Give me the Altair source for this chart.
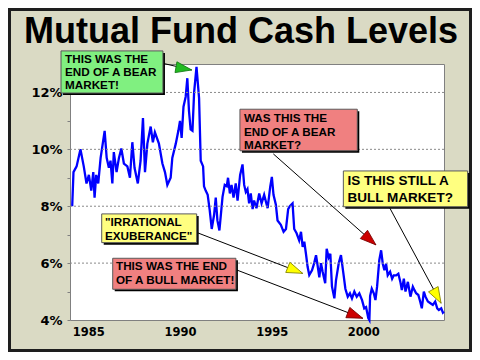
import altair as alt
import pandas as pd

# ---- data ----
years = [1984.12,1984.19,1984.36,1984.57,1984.75,1984.90,1985.03,1985.16,1985.27,1985.34,1985.43,1985.54,
         1985.67,1985.89,1986.00,1986.12,1986.21,1986.31,1986.39,1986.54,1986.67,1986.80,1986.94,1987.13,
         1987.27,1987.40,1987.52,1987.70,1987.85,1987.98,1988.09,1988.22,1988.40,1988.52,1988.63,1988.85,
         1989.04,1989.18,1989.31,1989.49,1989.58,1989.77,1989.91,1990.00,1990.09,1990.19,1990.31,1990.40,
         1990.49,1990.58,1990.68,1990.77,1990.90,1991.04,1991.13,1991.26,1991.31,1991.40,1991.51,1991.62,
         1991.73,1991.86,1991.95,1992.04,1992.15,1992.32,1992.44,1992.55,1992.62,1992.72,1992.81,1992.92,
         1993.04,1993.14,1993.28,1993.41,1993.50,1993.59,1993.68,1993.77,1993.86,1993.96,1994.04,1994.17,
         1994.32,1994.45,1994.59,1994.78,1994.92,1995.01,1995.10,1995.23,1995.32,1995.50,1995.65,1995.78,
         1995.90,1995.99,1996.14,1996.23,1996.36,1996.50,1996.60,1996.69,1996.78,1996.87,1996.96,1997.05,
         1997.20,1997.32,1997.42,1997.51,1997.60,1997.69,1997.78,1997.92,1998.00,1998.11,1998.20,1998.29,
         1998.42,1998.51,1998.66,1998.78,1998.91,1999.02,1999.15,1999.27,1999.38,1999.51,1999.64,1999.78,
         1999.93,2000.05,2000.15,2000.27,2000.33,2000.37,2000.46,2000.57,2000.66,2000.75,2000.87,2000.97,
         2001.06,2001.15,2001.24,2001.33,2001.46,2001.57,2001.66,2001.79,2001.91,2002.02,2002.10,2002.21,
         2002.30,2002.43,2002.57,2002.70,2002.79,2002.88,2003.00,2003.10,2003.19,2003.30,2003.39,2003.52,
         2003.66,2003.79,2003.92,2004.03,2004.12,2004.25,2004.34,2004.40]
cash = [8.0,9.2,9.4,10.0,9.4,8.8,9.1,8.55,9.2,8.3,9.1,8.8,
        9.7,10.65,9.7,9.35,9.6,8.8,9.9,9.2,9.7,10.03,9.5,9.4,
        9.0,10.25,9.35,8.8,9.6,11.1,9.2,10.2,10.8,10.25,10.6,10.2,
        9.5,9.2,8.75,9.0,9.7,10.2,10.65,11.0,10.4,11.5,11.85,12.5,
        11.35,10.7,10.65,12.0,12.9,11.8,9.6,9.4,8.7,8.55,8.4,7.86,
        7.2,7.7,8.3,7.5,7.15,8.33,8.75,8.7,9.0,8.45,8.75,8.3,
        8.8,8.2,9.1,9.47,8.75,8.5,8.6,8.1,8.45,7.9,8.2,7.93,
        8.45,8.1,8.4,7.93,8.68,9.03,8.4,8.05,7.5,7.35,7.1,7.2,
        7.9,8.0,8.1,7.2,7.05,6.8,7.1,6.57,6.75,6.33,5.87,5.58,
        5.75,6.0,6.28,5.9,5.5,6.0,5.7,5.29,6.5,6.2,6.33,5.17,
        4.76,5.4,6.0,6.28,5.65,5.1,4.82,4.94,4.76,5.0,4.82,4.94,
        4.7,4.41,4.45,4.07,4.0,4.85,5.1,4.94,4.7,5.17,6.1,6.45,
        5.98,5.75,5.98,5.57,5.7,5.45,5.57,5.57,5.63,5.34,5.05,5.45,
        5.0,5.34,4.82,5.17,5.05,4.94,4.88,4.65,4.41,5.0,4.82,4.65,
        4.59,4.53,4.65,4.41,4.35,4.41,4.26,4.3]

title_text = "Mutual Fund Cash Levels"
x_ticks = [1985, 1990, 1995, 2000]
y_ticks = [4, 5, 6, 7, 8, 9, 10, 11, 12]
grid_vals = [6, 8, 10, 12]

# annotation boxes (data units)
box_x1 = [1983.51, 1993.27, 1998.91, 1985.73, 1986.33]
box_x2 = [1989.07, 1999.67, 2005.69, 1990.91, 1993.05]
box_y1 = [13.46, 11.41, 9.24, 7.73, 6.17]
box_y2 = [11.98, 9.95, 7.98, 6.72, 5.08]
box_fill = ["#80f080", "#f08080", "#ffff80", "#ffff80", "#f08080"]

# text lines of the boxes
line_text = ["THIS WAS THE", "END OF A BEAR", "MARKET!",
             "WAS THIS THE", "END OF A BEAR", "MARKET?",
             "IS THIS STILL A", "BULL MARKET?",
             "\"IRRATIONAL", "EXUBERANCE\"",
             "THIS WAS THE END", "OF A BULL MARKET!"]
line_x = [1983.73] * 3 + [1993.49] * 3 + [1999.13] * 2 + [1985.91] * 2 + [1986.51] * 2
line_y = [13.05, 12.58, 12.11, 10.97, 10.48, 10.00, 8.75, 8.16, 7.30, 6.81, 5.76, 5.26]
line_size = [11.7] * 6 + [13.5] * 2 + [11.7] * 4

# arrows
arr_x1 = [1989.09, 1995.09, 2001.45, 1990.94, 1993.09]
arr_y1 = [13.02, 9.84, 7.93, 7.07, 5.76]
arr_x2 = [1990.64, 2000.69, 2004.24, 1996.69, 1999.97]
arr_y2 = [12.79, 6.64, 4.59, 5.64, 4.06]
arr_angle = [100, 131, 151, 112, 111]
arr_fill = ["#22bb22", "#cc0000", "#ffff00", "#ffff00", "#cc0000"]
arr_stroke = ["#117711", "#770000", "#888800", "#888800", "#770000"]

# ---- tables ----
df = pd.DataFrame({"year": years, "cash": cash})
boxes = pd.DataFrame({"x": box_x1, "x2": box_x2, "y": box_y1, "y2": box_y2, "fill": box_fill})
lines = pd.DataFrame({"x": line_x, "y": line_y, "t": line_text, "s": line_size})
arrows = pd.DataFrame({"x": arr_x1, "y": arr_y1, "x2": arr_x2, "y2": arr_y2,
                       "ang": arr_angle, "fill": arr_fill, "stroke": arr_stroke})
grid = pd.DataFrame({"g": grid_vals})

xs = alt.Scale(domain=[1984, 2004.4], nice=False, zero=False)
ys = alt.Scale(domain=[4, 13], nice=False, zero=False)

base_font = "Liberation Sans"
axis_font = "DejaVu Sans"

x_axis = alt.Axis(values=x_ticks, format="d", title=None, grid=False, ticks=False,
                  domain=False, labelFont=axis_font, labelFontWeight="bold",
                  labelFontSize=11.5, labelColor="black", labelPadding=6)
y_axis = alt.Axis(values=y_ticks, title=None, grid=False, domain=False,
                  tickSize=3, tickColor="#808080", labelPadding=5,
                  labelExpr="datum.value % 2 == 0 ? datum.value + '%' : ''",
                  labelFont=axis_font, labelFontWeight="bold", labelFontSize=13,
                  labelColor="black")

line = alt.Chart(df).mark_line(color="#0000ff", strokeWidth=2.3).encode(
    x=alt.X("year:Q", scale=xs, axis=x_axis),
    y=alt.Y("cash:Q", scale=ys, axis=y_axis),
)

gridlines = alt.Chart(grid).mark_rule(color="#8a8a8a", strokeDash=[2, 2], strokeWidth=1).encode(
    y=alt.Y("g:Q", scale=ys, axis=y_axis)
)

arrow_lines = alt.Chart(arrows).mark_rule(color="black", strokeWidth=1).encode(
    x=alt.X("x:Q", scale=xs, axis=x_axis), y=alt.Y("y:Q", scale=ys, axis=y_axis),
    x2="x2:Q", y2="y2:Q",
)

heads = alt.Chart(arrows).mark_point(
    shape="M0,0 L0.55,1.6 L-0.55,1.6 Z", filled=True, size=400, opacity=1, strokeWidth=0.8
).encode(
    x=alt.X("x2:Q", scale=xs, axis=x_axis), y=alt.Y("y2:Q", scale=ys, axis=y_axis),
    angle=alt.Angle("ang:Q", scale=None),
    fill=alt.Fill("fill:N", scale=None),
    stroke=alt.Stroke("stroke:N", scale=None),
)

shadow = alt.Chart(boxes).mark_rect(color="black", xOffset=2, x2Offset=2, yOffset=2, y2Offset=2).encode(
    x=alt.X("x:Q", scale=xs, axis=x_axis), x2="x2:Q",
    y=alt.Y("y:Q", scale=ys, axis=y_axis), y2="y2:Q",
)

rects = alt.Chart(boxes).mark_rect(stroke="#5a5a5a", strokeWidth=1).encode(
    x=alt.X("x:Q", scale=xs, axis=x_axis), x2="x2:Q",
    y=alt.Y("y:Q", scale=ys, axis=y_axis), y2="y2:Q",
    fill=alt.Fill("fill:N", scale=None),
)

texts = alt.Chart(lines).mark_text(
    align="left", baseline="alphabetic", font=base_font, fontWeight="bold", color="black"
).encode(
    x=alt.X("x:Q", scale=xs, axis=x_axis), y=alt.Y("y:Q", scale=ys, axis=y_axis), text="t:N",
    size=alt.Size("s:Q", scale=None),
)

title = alt.Chart(pd.DataFrame({"t": [title_text]})).mark_text(
    font=base_font, fontWeight="bold", fontSize=36, align="center", baseline="alphabetic",
    color="black"
).encode(x=alt.value(171), y=alt.value(-21), text="t:N")

frame = alt.Chart(pd.DataFrame({"a": [0]})).mark_rect(
    fillOpacity=0, stroke="#1e1e1e", strokeWidth=3
).encode(x=alt.value(-60.5), x2=alt.value(400.5), y=alt.value(-54.5), y2=alt.value(286.5))

chart = alt.layer(
    line, frame, title, gridlines, arrow_lines, heads, shadow, rects, texts
).properties(
    width=374, height=256,
    padding={"left": 62, "top": 56, "right": 28, "bottom": 32},
    autosize=alt.AutoSizeParams(type="none"),
    background="#dadac4",
).configure_view(
    fill="white", stroke="#808080", strokeWidth=1
)

chart.save("out.html", embed_options={"renderer": "svg", "actions": False})
